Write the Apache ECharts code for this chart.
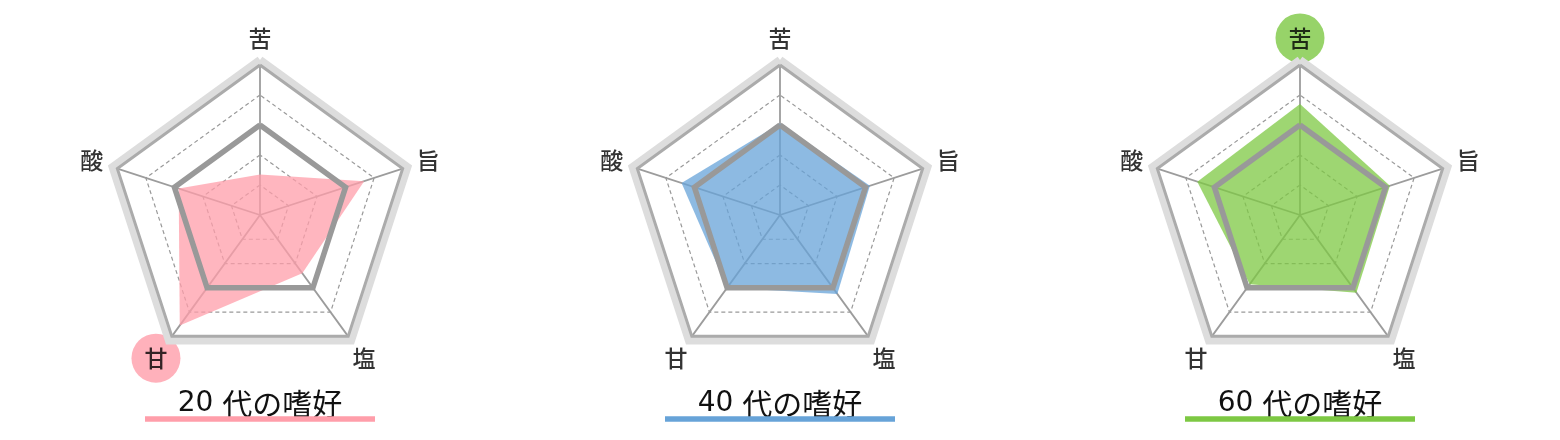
<!DOCTYPE html>
<html>
<head>
<meta charset="utf-8">
<script src="https://cdn.jsdelivr.net/npm/echarts@6/dist/echarts.min.js"></script>
<style>
html, body { margin: 0; padding: 0; background: #ffffff; }
#chart { width: 1560px; height: 440px; }
</style>
</head>
<body>
<div id="chart"></div>
<script>
// Indicators, listed counter-clockwise from the top (radar order)
const categories = ['苦', '酸', '甘', '塩', '旨'];
// Preference values per age group (0-100), same order as categories
const values20 = [27, 57, 91, 48, 73];
const values40 = [61, 69, 60, 65, 63];
const values60 = [74, 72, 57, 64, 63];
// Reference (overall) level drawn as the thick grey pentagon
const referenceValues = [60, 60, 60, 60, 60];
const ageLabels = ['20', '40', '60'];
const titleSuffix = '代の嗜好';
const highlights = ['甘', null, '苦'];
const MAX = 100;

const seriesValues = [values20, values40, values60];
const colors = ['#ff9eaa', '#67a3d8', '#7dc843'];
const FONT = '"Noto Sans CJK JP", "Noto Sans", sans-serif';
const centersX = [260, 780, 1300];
const CY = 215;
const R = 150;
const LABEL_R = 177;
const TITLE_W = 230;

const fullRing = categories.map(() => MAX);
const indicators = categories.map(n => ({ name: n, min: 0, max: MAX }));

const radar = [], polar = [], angleAxis = [], radiusAxis = [], series = [], title = [];

centersX.forEach((cx, i) => {
  radar.push({
    indicator: indicators, center: [cx, CY], radius: R, startAngle: 90,
    splitNumber: 5, shape: 'polygon',
    axisName: { show: false },
    axisLine: { lineStyle: { color: '#9c9c9c', width: 1.8 } },
    splitLine: { lineStyle: { color: '#999999', width: 1.2, type: [4, 3] } },
    splitArea: { show: false }, axisTick: { show: false }, axisLabel: { show: false }
  });
  radar.push({
    indicator: indicators, center: [cx, CY], radius: R + 5, startAngle: 90,
    splitNumber: 1, shape: 'polygon',
    axisName: { show: false }, axisLine: { show: false },
    splitLine: { show: false }, splitArea: { show: false },
    axisTick: { show: false }, axisLabel: { show: false }
  });
  polar.push({ center: [cx, CY], radius: LABEL_R });
  angleAxis.push({
    polarIndex: i, type: 'category', data: categories, startAngle: 90,
    clockwise: false, boundaryGap: false, show: false
  });
  radiusAxis.push({ polarIndex: i, type: 'value', min: 0, max: 1, show: false });

  series.push({
    type: 'scatter', coordinateSystem: 'polar', polarIndex: i, silent: true, z: 1,
    symbol: 'circle', symbolSize: 49,
    label: { show: true, position: 'inside', formatter: '{b}', color: '#000', fontSize: 23, fontWeight: 500, fontFamily: FONT },
    data: categories.map(n => ({
      name: n, value: [1, n],
      itemStyle: { color: n === highlights[i] ? colors[i] : 'rgba(0,0,0,0)' }
    }))
  });
  series.push({
    type: 'radar', radarIndex: 2 * i + 1, symbol: 'none', silent: true, z: 2,
    lineStyle: { color: '#dddddd', width: 8, join: 'miter' },
    data: [{ value: fullRing }]
  });
  series.push({
    type: 'radar', radarIndex: 2 * i, symbol: 'none', silent: true, z: 2,
    lineStyle: { width: 0, opacity: 0 },
    areaStyle: { color: colors[i], opacity: 0.75 },
    data: [{ value: seriesValues[i] }]
  });
  series.push({
    type: 'radar', radarIndex: 2 * i, symbol: 'none', silent: true, z: 2,
    lineStyle: { color: '#999999', width: 5.5, join: 'miter' },
    data: [{ value: referenceValues }]
  });
  series.push({
    type: 'radar', radarIndex: 2 * i, symbol: 'none', silent: true, z: 2,
    lineStyle: { color: '#ababab', width: 3, join: 'miter' },
    data: [{ value: fullRing }]
  });

  title.push({
    left: cx - TITLE_W / 2, top: 392, padding: 0,
    text: '{d|' + ageLabels[i] + ' }{t|' + titleSuffix + '}\n{u|}',
    textStyle: {
      fontWeight: 'normal',
      rich: {
        d: { align: 'center', fontSize: 28, lineHeight: 24, color: '#111', fontWeight: 'normal', fontFamily: '"DejaVu Sans", sans-serif' },
        t: { align: 'center', fontSize: 30, lineHeight: 24, color: '#111', fontWeight: 'normal', fontFamily: FONT },
        u: { width: TITLE_W, height: 5.5, lineHeight: 6, backgroundColor: colors[i] }
      }
    }
  });
});

const chart = echarts.init(document.getElementById('chart'));
chart.setOption({
  animation: false,
  backgroundColor: '#ffffff',
  title, radar, polar, angleAxis, radiusAxis, series
});
</script>
</body>
</html>
